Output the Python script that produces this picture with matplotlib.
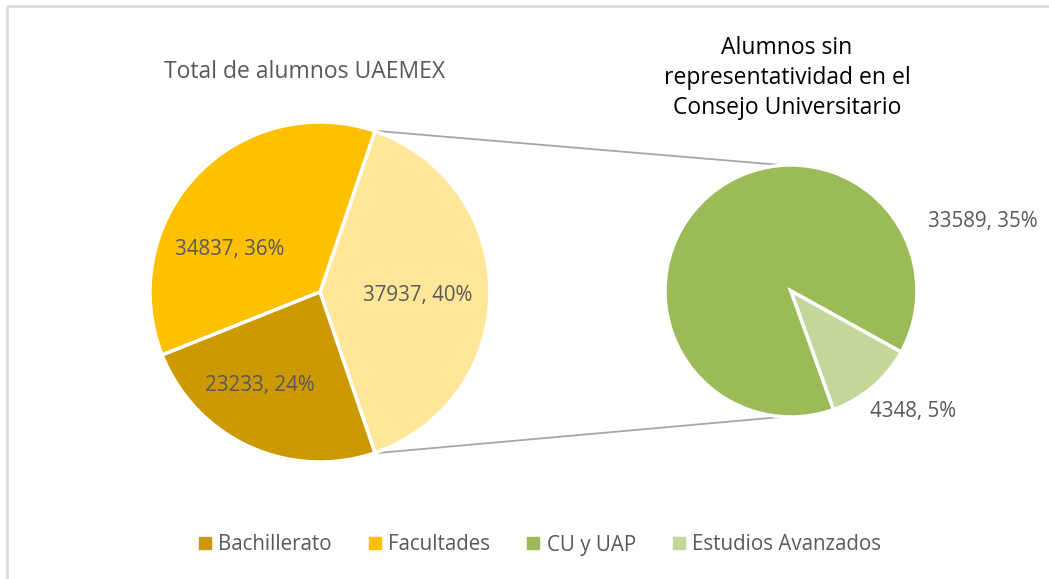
import numpy as np
import matplotlib.pyplot as plt
from matplotlib.lines import Line2D

plt.rcParams['font.family'] = ['Open Sans', 'DejaVu Sans']

# data
main_labels = ['Otros', 'Facultades', 'Bachillerato']
main_values = [37937, 34837, 23233]
sub_labels = ['CU y UAP', 'Estudios Avanzados']
sub_values = [33589, 4348]
legend_names = ['Bachillerato', 'Facultades', 'CU y UAP', 'Estudios Avanzados']

main_colors = ['#FFE699', '#FFC000', '#CC9900']
sub_colors = ['#9BBB59', '#C4D79B']
legend_colors = ['#CC9900', '#FFC000', '#9BBB59', '#C4D79B']
text_gray = '#595959'

W, H = 1049, 579
fig = plt.figure(figsize=(W / 100, H / 100), dpi=100)
ax = fig.add_axes([0, 0, 1, 1])

total = sum(main_values)

# left pie
c1 = (320, H - 292)
r1 = 170
other_angle = main_values[0] / total * 360
start1 = -other_angle / 2
w1, _ = ax.pie(main_values, colors=main_colors, startangle=start1, counterclock=True,
               center=c1, radius=r1, frame=True,
               wedgeprops=dict(edgecolor='white', linewidth=2.5))

# right pie
c2 = (791, H - 291)
r2 = 126
start2 = -29
w2, _ = ax.pie(sub_values, colors=sub_colors, startangle=start2, counterclock=True,
               center=c2, radius=r2, frame=True,
               wedgeprops=dict(edgecolor='white', linewidth=2.5))
ax.set_xlim(0, W)
ax.set_ylim(0, H)
ax.set_aspect('equal')
ax.axis('off')

# connector lines
for ang, ytgt in [(other_angle / 2, c2[1] + r2), (-other_angle / 2, c2[1] - r2)]:
    x0 = c1[0] + r1 * np.cos(np.radians(ang)) + 4
    y0 = c1[1] + r1 * np.sin(np.radians(ang))
    ax.plot([x0, c2[0] - 10], [y0, ytgt], color='#A6A6A6', lw=1.3, zorder=0)

# data labels
def lab(v):
    return '%d, %d%%' % (v, round(v / total * 100))

fs_lab = 14.8
main_pos = [(418, 295), (230, 250), (260, 385)]
for v, (x, y) in zip(main_values, main_pos):
    ax.text(x, H - y, lab(v), ha='center', va='center', fontsize=fs_lab, color=text_gray)
sub_pos = [(983, 222), (913, 412)]
for v, (x, y) in zip(sub_values, sub_pos):
    ax.text(x, H - y, lab(v), ha='center', va='center', fontsize=fs_lab, color=text_gray)

# titles
ax.text(305, H - 72, 'Total de alumnos UAEMEX', ha='center', va='center',
        fontsize=16.5, color=text_gray)
ax.text(787, H - 78, 'Alumnos sin\nrepresentatividad en el\nConsejo Universitario',
        ha='center', va='center', fontsize=16.5, color='black', linespacing=1.35)

# legend
handles = [Line2D([], [], ls='', marker='s', markersize=9, color=c) for c in legend_colors]
leg = fig.legend(handles, legend_names, loc='center', bbox_to_anchor=(538 / W, 1 - 545 / H),
                 ncol=4, frameon=False, fontsize=14.8, handletextpad=0.15, columnspacing=1.6,
                 handlelength=1.0)
for t in leg.get_texts():
    t.set_color(text_gray)

# chart border (top and left visible)
ax.plot([6.5, 6.5], [0, H - 5.5], color='#D9D9D9', lw=2, solid_capstyle='butt')
ax.plot([6.5, W], [H - 5.5, H - 5.5], color='#D9D9D9', lw=2, solid_capstyle='butt')

fig.savefig('out.png', dpi=100)
